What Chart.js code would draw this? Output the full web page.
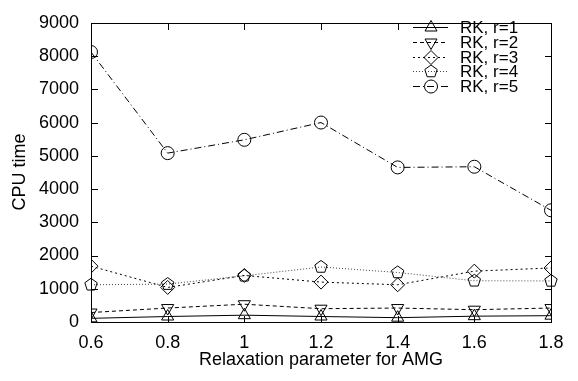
<!DOCTYPE html>
<html>
<head>
<meta charset="utf-8">
<script src="https://cdn.jsdelivr.net/npm/chart.js@4.4.1/dist/chart.umd.min.js"></script>
<style>
  html, body { margin: 0; padding: 0; background: #fff; overflow: hidden; }
  #wrap { width: 578px; height: 381px; position: relative; }
  #frame_layer { position: absolute; left: 0; top: 0; width: 578px; height: 381px; pointer-events: none; }
  #frame_layer div { position: absolute; background: #000; }
</style>
</head>
<body>
<div id="wrap"><canvas id="cpu_chart"></canvas><div id="frame_layer"></div></div>
<script>
// data
var relax_vals = [0.6, 0.8, 1.0, 1.2, 1.4, 1.6, 1.8]
var rk_r1 = [110, 165, 205, 165, 130, 175, 190]
var rk_r2 = [285, 420, 535, 400, 420, 370, 420]
var rk_r3 = [1680, 1040, 1400, 1200, 1120, 1530, 1625]
var rk_r4 = [1120, 1140, 1390, 1655, 1490, 1240, 1235]
var rk_r5 = [8120, 5080, 5480, 6000, 4650, 4670, 3360]
var series_names = ["RK, r=1", "RK, r=2", "RK, r=3", "RK, r=4", "RK, r=5"]
var x_ticks = [0.6, 0.8, 1.0, 1.2, 1.4, 1.6, 1.8]
var y_ticks = [0, 1000, 2000, 3000, 4000, 5000, 6000, 7000, 8000, 9000]

var FONT = "'Liberation Sans', Arial, Helvetica, sans-serif"

var marker_kinds = ["up", "down", "diamond", "pentagon", "circle"]
var point_styles = ["triangle", "triangle", "rectRot", "circle", "circle"]
var point_rotation = [0, 180, 0, 0, 0]
var point_radius = [7, 7, 7, 0, 6.5]
var dash_styles = [[], [4, 3], [2, 3], [1, 2], [7, 3, 1, 3]]
var line_colors = ["#000", "#000", "#000", "#444", "#000"]
var all_series = [rk_r1, rk_r2, rk_r3, rk_r4, rk_r5]

// hollow marker path, used for the pentagons and the legend samples
function drawShape(ctx, kind, x, y){
    ctx.beginPath()
    if(kind == "up"){
        ctx.moveTo(x, y - 7); ctx.lineTo(x + 6, y + 3.5); ctx.lineTo(x - 6, y + 3.5); ctx.closePath()
    }else if(kind == "down"){
        ctx.moveTo(x, y + 7); ctx.lineTo(x + 6, y - 3.5); ctx.lineTo(x - 6, y - 3.5); ctx.closePath()
    }else if(kind == "diamond"){
        ctx.moveTo(x, y - 7); ctx.lineTo(x + 7, y); ctx.lineTo(x, y + 7); ctx.lineTo(x - 7, y); ctx.closePath()
    }else if(kind == "pentagon"){
        for(var k = 0; k < 5; k++){
            var a = -Math.PI / 2 + k * 2 * Math.PI / 5
            var px = x + 6.5 * Math.cos(a), py = y + 6.5 * Math.sin(a)
            if(k == 0) ctx.moveTo(px, py); else ctx.lineTo(px, py)
        }
        ctx.closePath()
    }else{
        ctx.arc(x, y, 6.5, 0, 2 * Math.PI)
    }
    ctx.stroke()
}

var datasets = all_series.map(function(vals, i){
    return {
        label: series_names[i],
        data: vals.map(function(v, j){ return {x: relax_vals[j], y: v} }),
        borderColor: line_colors[i],
        backgroundColor: "transparent",
        borderWidth: 1,
        borderDash: dash_styles[i],
        pointStyle: point_styles[i],
        rotation: point_rotation[i],
        pointRadius: point_radius[i],
        pointHoverRadius: point_radius[i],
        pointBorderColor: "#000",
        pointBackgroundColor: "transparent",
        pointBorderWidth: 1,
        tension: 0
    }
})

// plot box and inward ticks as 1px blocks placed from the chart's scales
function addBlock(layer, x, y, w, h){
    var d = document.createElement("div")
    d.style.left = x + "px"; d.style.top = y + "px"
    d.style.width = w + "px"; d.style.height = h + "px"
    layer.appendChild(d)
}

function buildFrame(chart){
    var layer = document.getElementById("frame_layer")
    layer.innerHTML = ""
    var a = chart.chartArea
    var xs = chart.scales.x, ys = chart.scales.y
    var l = Math.round(a.left), r = Math.round(a.right)
    var t = Math.round(a.top), b = Math.round(a.bottom)
    var tl = 6
    addBlock(layer, l, t, r - l + 1, 1)
    addBlock(layer, l, b, r - l + 1, 1)
    addBlock(layer, l, t, 1, b - t + 1)
    addBlock(layer, r, t, 1, b - t + 1)
    x_ticks.forEach(function(v){
        var px = Math.round(xs.getPixelForValue(v))
        addBlock(layer, px, b - tl, 1, tl)
        addBlock(layer, px, t + 1, 1, tl)
    })
    y_ticks.forEach(function(v){
        var py = Math.round(ys.getPixelForValue(v))
        addBlock(layer, l + 1, py, tl, 1)
        addBlock(layer, r - tl, py, tl, 1)
    })
}

function drawLegend(chart){
    var ctx = chart.ctx
    ctx.save()
    ctx.font = "17px " + FONT
    ctx.fillStyle = "#000"
    ctx.textBaseline = "middle"
    ctx.textAlign = "left"
    ctx.lineWidth = 1
    for(var i = 0; i < datasets.length; i++){
        var y = Math.round(27 + i * 14.8) + 0.5
        ctx.strokeStyle = line_colors[i]
        ctx.setLineDash(dash_styles[i])
        ctx.beginPath()
        ctx.moveTo(413, y); ctx.lineTo(448, y)
        ctx.stroke()
        ctx.setLineDash([])
        ctx.strokeStyle = "#000"
        drawShape(ctx, marker_kinds[i], 431, y)
        ctx.fillText(series_names[i], 460, y + 0.5)
    }
    // y axis title
    ctx.translate(20, 172)
    ctx.rotate(-Math.PI / 2)
    ctx.textAlign = "center"
    ctx.font = "18px " + FONT
    ctx.fillText("CPU time", 0, 0)
    ctx.restore()
}

var gnuplotDecor = {
    id: "gnuplotDecor",
    afterDatasetsDraw: function(chart){
        // pentagon markers for r=4
        var ctx = chart.ctx
        var xs = chart.scales.x, ys = chart.scales.y
        ctx.save()
        ctx.setLineDash([])
        ctx.strokeStyle = "#000"
        ctx.lineWidth = 1
        for(var j = 0; j < rk_r4.length; j++){
            drawShape(ctx, "pentagon", xs.getPixelForValue(relax_vals[j]), ys.getPixelForValue(rk_r4[j]))
        }
        ctx.restore()
    },
    afterDraw: function(chart){
        drawLegend(chart)
        buildFrame(chart)
    }
}

var cpu_chart = new Chart(document.getElementById("cpu_chart"), {
    type: "line",
    data: { datasets: datasets },
    options: {
        responsive: true,
        maintainAspectRatio: false,
        animation: false,
        layout: { padding: { top: 13, right: 27, left: 0, bottom: 0 } },
        plugins: { legend: { display: false }, tooltip: { enabled: false } },
        scales: {
            x: {
                type: "linear",
                min: 0.6, max: 1.8,
                grid: { display: false, drawTicks: false },
                border: { display: false },
                afterBuildTicks: function(scale){
                    scale.ticks = x_ticks.map(function(v){ return {value: v} })
                },
                afterFit: function(scale){ scale.height = 59 },
                ticks: {
                    color: "#000",
                    font: { family: FONT, size: 18 },
                    padding: 10,
                    maxRotation: 0,
                    callback: function(v){ return String(Number(v.toFixed(1))) }
                },
                title: {
                    display: true,
                    text: "Relaxation parameter for AMG",
                    color: "#000",
                    font: { family: FONT, size: 18 },
                    padding: { top: 0, bottom: 10 }
                }
            },
            y: {
                min: 0, max: 9000,
                grid: { display: false, drawTicks: false },
                border: { display: false },
                afterBuildTicks: function(scale){
                    scale.ticks = y_ticks.map(function(v){ return {value: v} })
                },
                afterFit: function(scale){ scale.width = 91 },
                ticks: {
                    color: "#000",
                    font: { family: FONT, size: 18 },
                    padding: 12,
                    callback: function(v){ return String(v) }
                }
            }
        }
    },
    plugins: [gnuplotDecor]
})
</script>
</body>
</html>
